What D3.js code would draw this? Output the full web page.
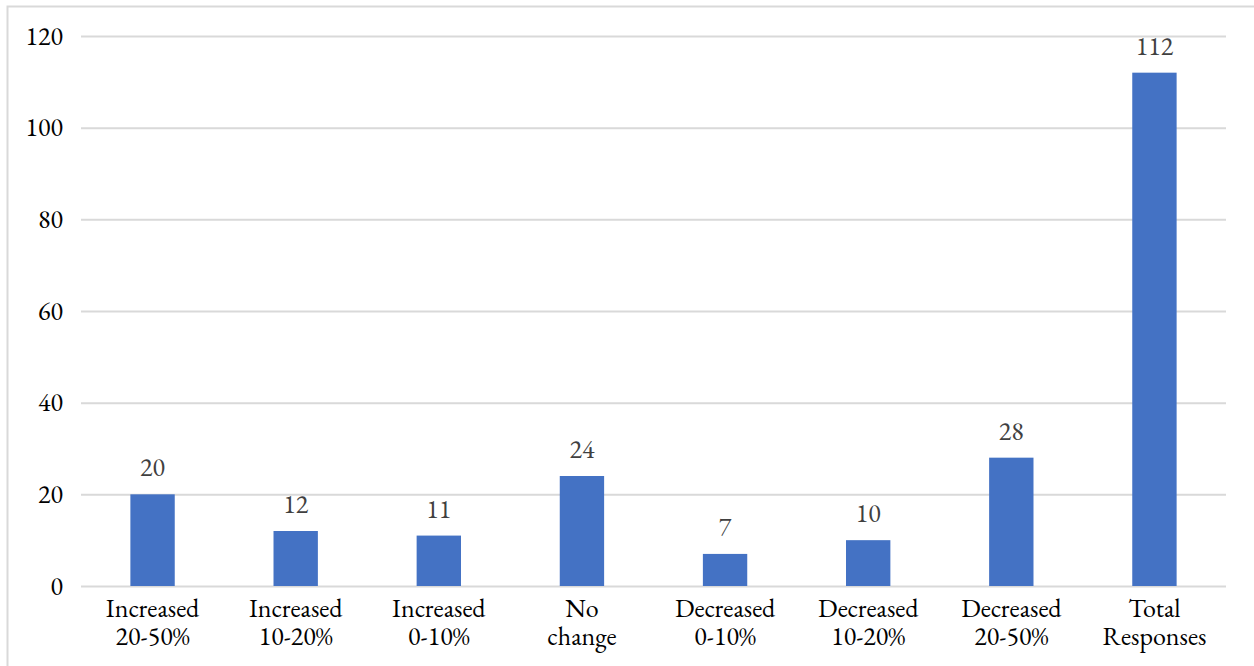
<!DOCTYPE html>
<html><head><meta charset="utf-8">
<script src="https://cdn.jsdelivr.net/npm/d3@7"></script>
<style>html,body{margin:0;padding:0;background:#fff;}</style>
</head><body>
<svg id="chart" width="1254" height="666"></svg>
<script>
const categories = [["Increased","20-50%"],["Increased","10-20%"],["Increased","0-10%"],["No","change"],["Decreased","0-10%"],["Decreased","10-20%"],["Decreased","20-50%"],["Total","Responses"]];
const values = [20,12,11,24,7,10,28,112];
const yTicks = [0,20,40,60,80,100,120];

(function(){
const svg = d3.select("#chart");
const font = '"EB Garamond", "Liberation Serif", serif';
const fs = 26;
svg.append("rect").attr("x",7.5).attr("y",6.5).attr("width",1260).attr("height",680)
  .attr("fill","#fff").attr("stroke","#d9d9d9").attr("stroke-width",2);

const mLeft = 81, mRight = 1226, mTop = 36, mBottom = 586;
const x = d3.scaleBand().domain(d3.range(categories.length)).range([mLeft,mRight]).paddingInner(0.69).paddingOuter(0.345);
const y = d3.scaleLinear().domain([0,120]).range([mBottom,mTop]);

const yAxis = d3.axisLeft(y).tickValues(yTicks).tickSize(-(mRight-mLeft)).tickPadding(18);
const gy = svg.append("g").attr("transform",`translate(${mLeft},0)`).call(yAxis);
gy.select(".domain").remove();
gy.attr("font-family",null).attr("font-size",null);
gy.selectAll(".tick line").attr("stroke","#d9d9d9").attr("stroke-width",2);
gy.selectAll(".tick text").style("font-family",font).style("font-size",fs+"px").attr("fill","#000");

svg.append("g").selectAll("rect").data(values).join("rect")
  .attr("x",(d,i)=>x(i)).attr("width",x.bandwidth())
  .attr("y",d=>y(d)).attr("height",d=>y(0)-y(d)).attr("fill","#4472c4");

svg.append("g").selectAll("text").data(values).join("text")
  .attr("x",(d,i)=>x(i)+x.bandwidth()/2).attr("y",d=>y(d)-18)
  .attr("text-anchor","middle").style("font-family",font).style("font-size",fs+"px").attr("fill","#404040")
  .text(d=>d);

const xAxis = d3.axisBottom(x).tickSize(0).tickFormat(()=>"");
const gx = svg.append("g").attr("transform",`translate(0,${mBottom})`).call(xAxis);
gx.select(".domain").remove();
gx.attr("font-family",null).attr("font-size",null);
gx.selectAll(".tick").each(function(d){
  const t = d3.select(this).append("text").style("font-family",font).style("font-size",fs+"px")
    .attr("fill","#000").attr("text-anchor","middle");
  categories[d].forEach((s,k)=>t.append("tspan").attr("x",0).attr("y",31+k*28).text(s));
});
})();
</script>
</body></html>
